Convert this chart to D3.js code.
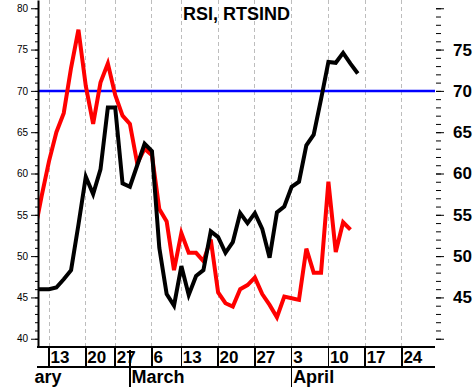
<!DOCTYPE html>
<html>
<head>
<meta charset="utf-8">
<script src="https://cdn.jsdelivr.net/npm/d3@7"></script>
<style>
  body { margin: 0; background: #fff; }
  svg { display: block; font-family: "Liberation Sans", Arial, sans-serif; }
</style>
</head>
<body>
<script>
// trading days, 2006 (Russian holidays skipped)
const tradingDays = [
  "02-09","02-10",
  "02-13","02-14","02-15","02-16","02-17",
  "02-20","02-21","02-22","02-26",
  "02-27","02-28","03-01","03-02","03-03",
  "03-06","03-07","03-09","03-10",
  "03-13","03-14","03-15","03-16","03-17",
  "03-20","03-21","03-22","03-23","03-24",
  "03-27","03-28","03-29","03-30","03-31",
  "04-03","04-04","04-05","04-06","04-07",
  "04-10","04-11","04-12","04-13","04-14",
  "04-17","04-18","04-19","04-20","04-21",
  "04-24","04-25","04-26","04-27","04-28"
];

const weekStarts = ["02-13","02-20","02-27","03-06","03-13","03-20","03-27","04-03","04-10","04-17","04-24"];
const weekLabels = ["13","20","27","6","13","20","27","3","10","17","24"];

const monthNames = ["February", "March", "April"];
// index (in trading days) where each month starts; February starts before the data
const monthStarts = [-7, tradingDays.indexOf("03-01"), tradingDays.indexOf("04-03")];

// RSI values, one per trading day from 02-09
const rsiBlack = [46.0, 46.0, 46.0, 46.2, 47.2, 48.3, 53.8, 59.6, 57.5, 60.5,
  68.0, 68.0, 58.8, 58.4, 61.0, 63.6, 62.7, 51.0, 45.4, 44.0,
  48.8, 45.3, 47.6, 48.3, 53.0, 52.3, 50.4, 51.7, 55.2, 54.0,
  55.2, 53.3, 49.8, 55.3, 56.0, 58.4, 59.0, 63.4, 64.7, 69.0,
  73.5, 73.4, 74.6, 73.3, 72.1];
const rsiRed = [52.7, 57.3, 61.5, 65.0, 67.3, 72.8, 77.4, 70.6, 66.0, 71.0,
  73.3, 69.5, 67.0, 66.0, 61.2, 63.0, 62.2, 55.7, 54.2, 48.3,
  52.8, 50.4, 50.4, 49.4, 52.0, 45.6, 44.3, 43.9, 46.0, 46.5,
  47.4, 45.4, 44.1, 42.6, 45.1, 44.9, 44.7, 50.9, 48.0, 48.0,
  59.0, 50.5, 54.1, 53.2];

const level = 70;

const width = 474, height = 387;
const left = 38, right = 435, bottom = 347;

const x = d3.scaleLinear().domain([0.5, tradingDays.length - 0.5]).range([left, right]);
const y = d3.scaleLinear().domain([39, 81]).range([bottom, 0]);

const svg = d3.select("body").append("svg")
  .attr("width", width)
  .attr("height", height);

svg.append("rect").attr("width", width).attr("height", height).attr("fill", "#fff");

const defs = svg.append("defs");
defs.append("clipPath").attr("id", "plot")
  .append("rect").attr("x", left).attr("y", 0).attr("width", right - left).attr("height", bottom);
defs.append("clipPath").attr("id", "months")
  .append("rect").attr("x", 34).attr("y", bottom).attr("width", right - 34).attr("height", height - bottom);

// dashed week grid
svg.append("g").selectAll("line")
  .data(weekStarts)
  .join("line")
    .attr("x1", d => x(tradingDays.indexOf(d)))
    .attr("x2", d => x(tradingDays.indexOf(d)))
    .attr("y1", 0)
    .attr("y2", bottom)
    .attr("stroke", "#bdbdbd")
    .attr("stroke-dasharray", "4,3")
    .attr("shape-rendering", "crispEdges");

// title
svg.append("text")
  .attr("x", (left + right) / 2)
  .attr("y", 20)
  .attr("text-anchor", "middle")
  .attr("font-size", 18)
  .attr("font-weight", "bold")
  .text("RSI, RTSIND");

// 70 level
svg.append("line")
  .attr("x1", left).attr("x2", right)
  .attr("y1", y(level)).attr("y2", y(level))
  .attr("stroke", "#0000ff")
  .attr("stroke-width", 2.5);

// series
const line = d3.line().x((d, i) => x(i)).y(d => y(d));
const plot = svg.append("g").attr("clip-path", "url(#plot)");
plot.append("path").datum(rsiRed)
  .attr("d", line)
  .attr("fill", "none")
  .attr("stroke", "#ff0000")
  .attr("stroke-width", 4);
plot.append("path").datum(rsiBlack)
  .attr("d", line)
  .attr("fill", "none")
  .attr("stroke", "#000")
  .attr("stroke-width", 4);

// left axis
const leftAxis = svg.append("g").attr("transform", `translate(${left},0)`);
leftAxis.call(d3.axisLeft(y).tickValues(d3.range(40, 81, 5)).tickSize(7).tickSizeOuter(0).tickPadding(3));
leftAxis.select(".domain").attr("stroke-width", 2);
leftAxis.selectAll("text").attr("font-size", 10).attr("font-family", null);
svg.append("g").attr("transform", `translate(${left},0)`)
  .call(d3.axisLeft(y).tickValues(d3.range(40, 81)).tickSize(3).tickFormat(""))
  .select(".domain").remove();

// right axis
const rightAxis = svg.append("g").attr("transform", `translate(${right + 1},0)`);
rightAxis.call(d3.axisRight(y).tickValues(d3.range(40, 81, 5)).tickSize(8).tickPadding(9)
  .tickFormat(d => (d >= 45 && d <= 75) ? d : ""));
rightAxis.select(".domain").remove();
rightAxis.selectAll("text").attr("font-size", 17).attr("font-weight", "bold").attr("font-family", null);
svg.append("g").attr("transform", `translate(${right + 1},0)`)
  .call(d3.axisRight(y).tickValues(d3.range(40, 81)).tickSize(5).tickFormat(""))
  .select(".domain").remove();

// date rows
const dateAxis = svg.append("g").attr("shape-rendering", "crispEdges");
[bottom, bottom + 20].forEach(yy => {
  dateAxis.append("line")
    .attr("x1", left - 1).attr("x2", right)
    .attr("y1", yy).attr("y2", yy)
    .attr("stroke", "#000").attr("stroke-width", 2);
});
dateAxis.selectAll(".week")
  .data(weekStarts)
  .join("line")
    .attr("class", "week")
    .attr("x1", d => x(tradingDays.indexOf(d)))
    .attr("x2", d => x(tradingDays.indexOf(d)))
    .attr("y1", bottom)
    .attr("y2", bottom + 20)
    .attr("stroke", "#000").attr("stroke-width", 1.5);
dateAxis.selectAll(".weeklabel")
  .data(weekStarts)
  .join("text")
    .attr("class", "weeklabel")
    .attr("x", d => x(tradingDays.indexOf(d)) + 1.5)
    .attr("y", bottom + 16)
    .attr("font-size", 17)
    .attr("font-weight", "bold")
    .text((d, i) => weekLabels[i]);

const monthRow = svg.append("g").attr("clip-path", "url(#months)");
monthRow.selectAll("line")
  .data(monthStarts.slice(1))
  .join("line")
    .attr("x1", d => x(d)).attr("x2", d => x(d))
    .attr("y1", bottom + 3).attr("y2", height)
    .attr("stroke", "#000").attr("stroke-width", 1.5)
    .attr("shape-rendering", "crispEdges");
monthRow.selectAll("text")
  .data(monthNames)
  .join("text")
    .attr("x", (d, i) => x(monthStarts[i]) + 1.5)
    .attr("y", bottom + 36)
    .attr("font-size", 18)
    .attr("font-weight", "bold")
    .text(d => d);
</script>
</body>
</html>
